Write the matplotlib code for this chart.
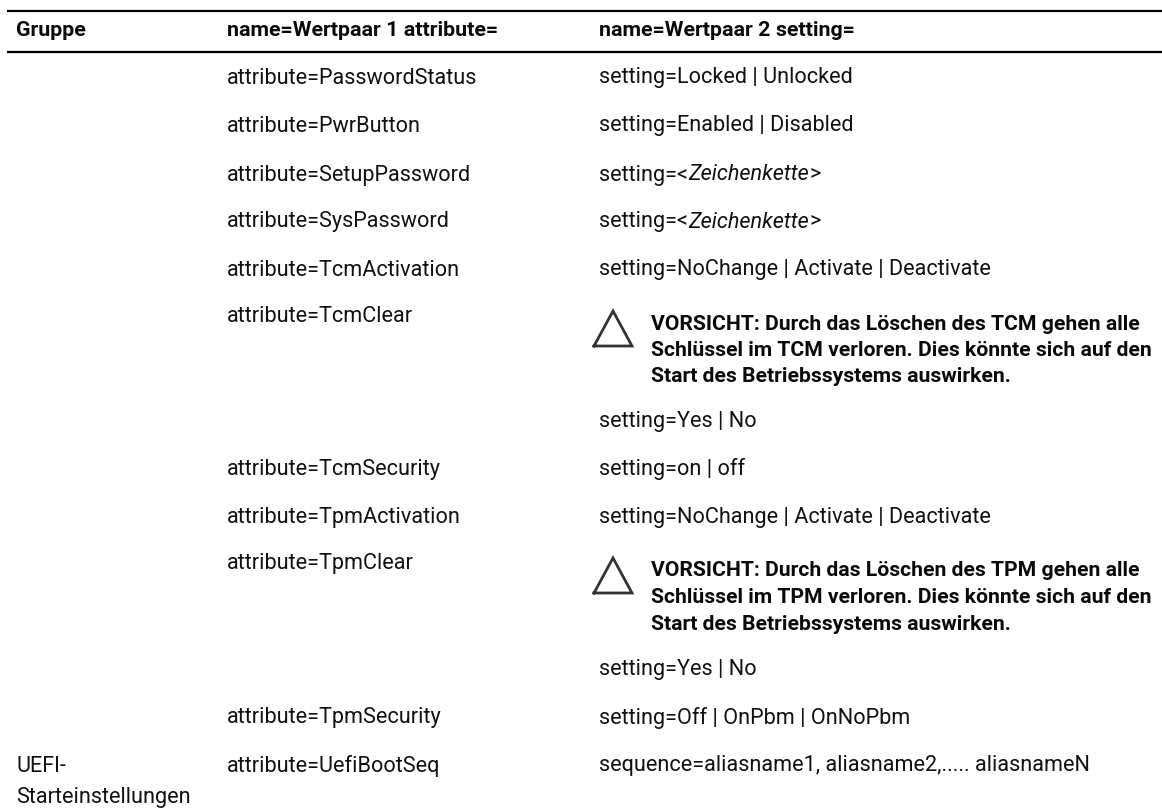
import matplotlib
matplotlib.use("Agg")
import matplotlib.pyplot as plt

W, H = 1162, 810

header = ["Gruppe", "name=Wertpaar 1 attribute=", "name=Wertpaar 2 setting="]
attributes = ["attribute=PasswordStatus", "attribute=PwrButton", "attribute=SetupPassword",
              "attribute=SysPassword", "attribute=TcmActivation", "attribute=TcmClear",
              "attribute=TcmSecurity", "attribute=TpmActivation", "attribute=TpmClear",
              "attribute=TpmSecurity", "attribute=UefiBootSeq"]
settings = ["setting=Locked | Unlocked", "setting=Enabled | Disabled", None, None,
            "setting=NoChange | Activate | Deactivate", "setting=Yes | No", "setting=on | off",
            "setting=NoChange | Activate | Deactivate", "setting=Yes | No",
            "setting=Off | OnPbm | OnNoPbm", "sequence=aliasname1, aliasname2,..... aliasnameN"]
tcm_warning = ["VORSICHT: Durch das Löschen des TCM gehen alle",
               "Schlüssel im TCM verloren. Dies könnte sich auf den",
               "Start des Betriebssystems auswirken."]
tpm_warning = ["VORSICHT: Durch das Löschen des TPM gehen alle",
               "Schlüssel im TPM verloren. Dies könnte sich auf den",
               "Start des Betriebssystems auswirken."]

plt.rcParams['font.family'] = ['Roboto', 'Liberation Sans', 'DejaVu Sans']
fig = plt.figure(figsize=(W / 100, H / 100), dpi=100)
ax = fig.add_axes([0, 0, 1, 1])
ax.set_xlim(0, W)
ax.set_ylim(H, 0)
ax.axis("off")

fs = 15.6
fs_bold = 15.4
fs_warn = 15.25
ink = "#111111"
col_x = [16, 227, 599]

# rules above and below the header row
ax.plot([7, W], [10.5, 10.5], color="black", lw=1.6, solid_capstyle="butt")
ax.plot([7, W], [52, 52], color="black", lw=1.6, solid_capstyle="butt")
for x, label in zip(col_x, header):
    ax.text(x, 31, label, fontsize=fs_bold, va="center", weight="bold", color="#0a0a0a")

rows_a = [78, 126, 175, 222, 270, 317, 469, 517, 564, 718, 766]
rows_s = [78, 126, None, None, 270, 422, 469, 517, 669, 718, 766]
for y, label in zip(rows_a, attributes):
    ax.text(col_x[1], y, label, fontsize=fs, va="center", color=ink)
for y, label in zip(rows_s, settings):
    if y is not None:
        ax.text(col_x[2], y, label, fontsize=fs, va="center", color=ink)

for y in (175, 222):
    ax.text(col_x[2], y, "setting=<", fontsize=fs, va="center", color=ink)
    ax.text(688, y, "Zeichenkette", fontsize=fs, va="center", style="italic", color=ink)
    ax.text(810, y, ">", fontsize=fs, va="center", color=ink)


def warning(y0, lines):
    ax.plot([594, 613, 632, 594], [y0 + 35, y0, y0 + 35, y0 + 35], color="#333333", lw=2,
            solid_joinstyle="miter")
    for i, line in enumerate(lines):
        ax.text(651, y0 + 13 + i * 26.5, line, fontsize=fs_warn, va="center", weight="bold",
                color="#0a0a0a")


warning(311, tcm_warning)
warning(558, tpm_warning)

ax.text(col_x[0], 766, "UEFI-", fontsize=fs, va="center", color=ink)
ax.text(col_x[0], 798, "Starteinstellungen", fontsize=fs, va="center", color=ink)

fig.savefig("out.png", dpi=100)
